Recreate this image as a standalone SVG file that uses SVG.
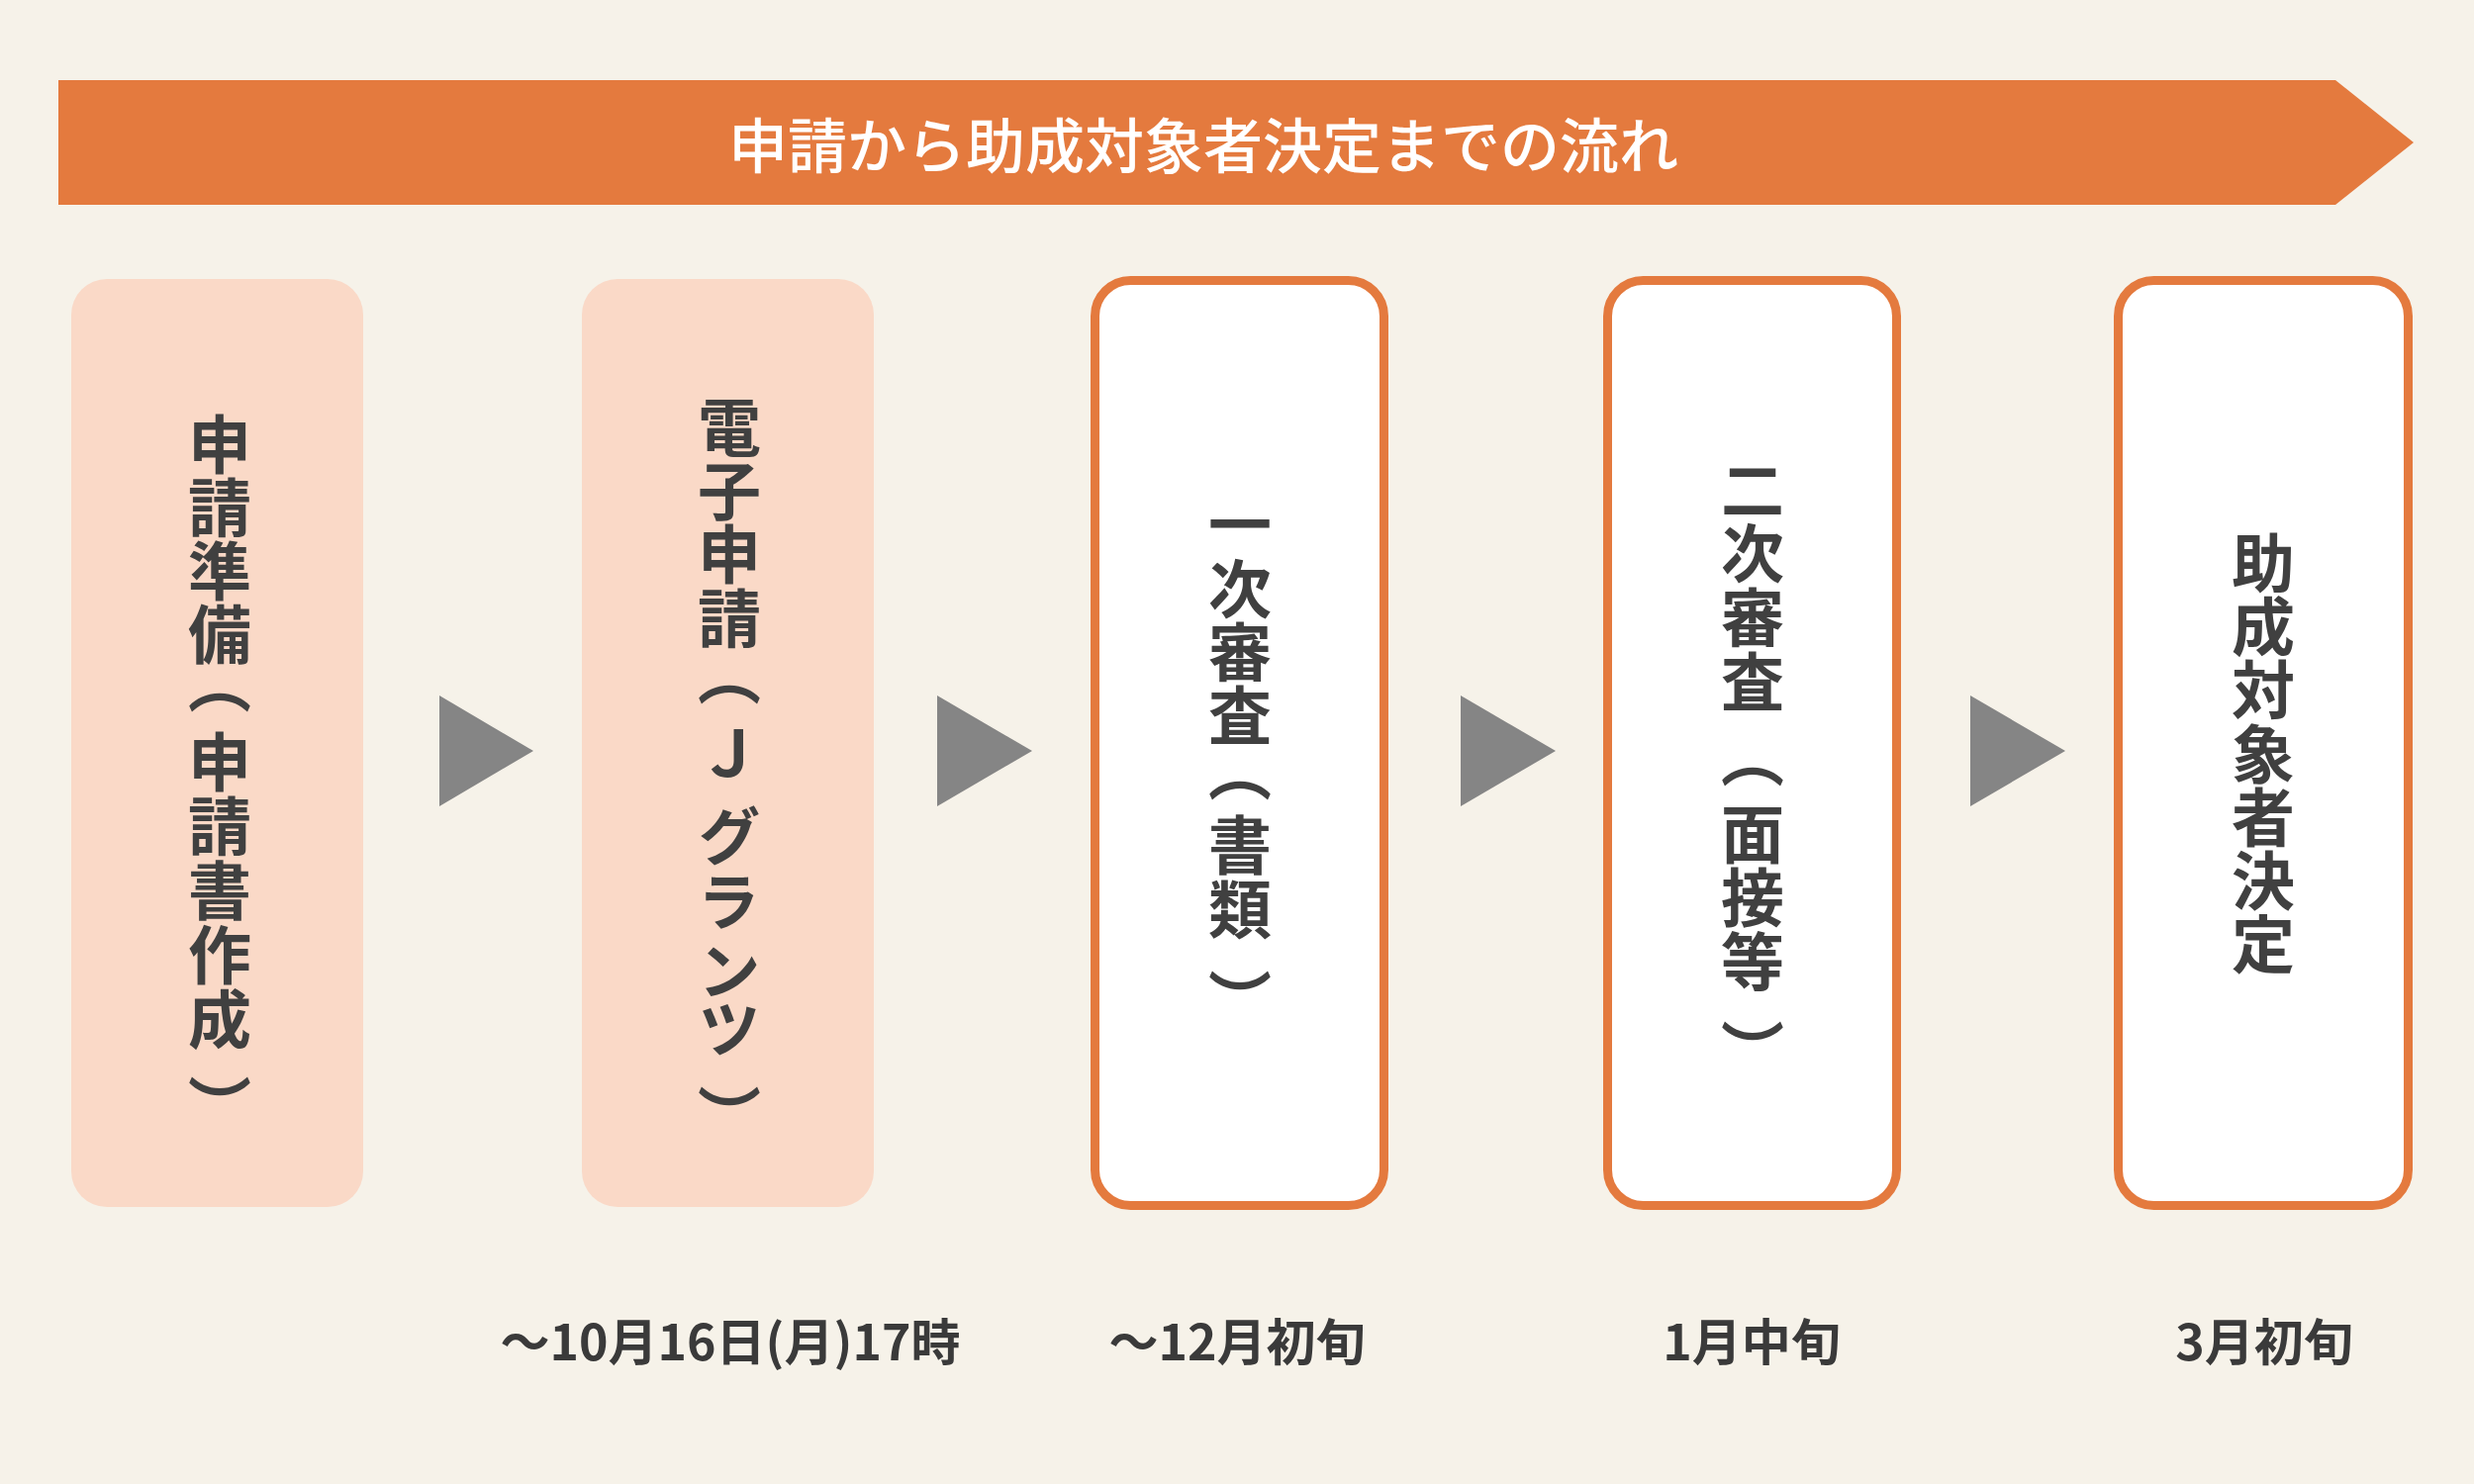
<svg xmlns="http://www.w3.org/2000/svg" width="2500" height="1500" viewBox="0 0 2500 1500">
<style>
.jp{font-family:"Noto Sans CJK JP","Noto Sans",sans-serif;}
.title{font-size:60px;font-weight:500;fill:#FFFFFF;}
.vt{font-size:64px;font-weight:700;fill:#404040;writing-mode:vertical-rl;}
.date{font-size:50px;font-weight:700;fill:#3A3A3A;}
.peach{fill:#FAD9C7;}
.outl{fill:#FFFFFF;stroke:#E47A3E;stroke-width:9;}
.arr{fill:#858585;}
</style>
<rect x="0" y="0" width="2500" height="1500" fill="#F6F2E9"/>
<g id="banner">
<polygon points="59,81 2360,81 2439,144 2360,207 59,207" fill="#E47A3E"/>
<text class="jp title" x="1216" y="143" text-anchor="middle" dominant-baseline="central">申請から助成対象者決定までの流れ</text>
</g>
<g id="node1">
<rect class="peach" x="72" y="282" width="295" height="938" rx="36"/>
<text class="jp vt" x="222"><tspan x="222" y="417">申</tspan><tspan x="222" y="481">請</tspan><tspan x="222" y="545">準</tspan><tspan x="222" y="609">備</tspan><tspan x="222" y="658">（</tspan><tspan x="222" y="738">申</tspan><tspan x="222" y="803">請</tspan><tspan x="222" y="868">書</tspan><tspan x="222" y="933">作</tspan><tspan x="222" y="998">成</tspan><tspan x="222" y="1086">）</tspan></text>
</g>
<g id="node2">
<rect class="peach" x="588" y="282" width="295" height="938" rx="36"/>
<text class="jp vt" x="737"><tspan x="737" y="400">電</tspan><tspan x="737" y="464">子</tspan><tspan x="737" y="528">申</tspan><tspan x="737" y="593">請</tspan><tspan x="737" y="650">（</tspan><tspan x="737" y="730">Ｊ</tspan><tspan x="737" y="813">グ</tspan><tspan x="737" y="879">ラ</tspan><tspan x="737" y="949">ン</tspan><tspan x="737" y="1008">ツ</tspan><tspan x="737" y="1096">）</tspan></text>
</g>
<g id="node3">
<rect class="outl" x="1106.5" y="283.5" width="292" height="935" rx="36"/>
<text class="jp vt" x="1253"><tspan x="1253" y="498">一</tspan><tspan x="1253" y="563">次</tspan><tspan x="1253" y="627">審</tspan><tspan x="1253" y="691">査</tspan><tspan x="1253" y="747">（</tspan><tspan x="1253" y="822">書</tspan><tspan x="1253" y="887">類</tspan><tspan x="1253" y="979">）</tspan></text>
</g>
<g id="node4">
<rect class="outl" x="1624.5" y="283.5" width="292" height="935" rx="36"/>
<text class="jp vt" x="1771"><tspan x="1771" y="463">二</tspan><tspan x="1771" y="527">次</tspan><tspan x="1771" y="592">審</tspan><tspan x="1771" y="657">査</tspan><tspan x="1771" y="733">（</tspan><tspan x="1771" y="811">面</tspan><tspan x="1771" y="875">接</tspan><tspan x="1771" y="940">等</tspan><tspan x="1771" y="1030">）</tspan></text>
</g>
<g id="node5">
<rect class="outl" x="2140.5" y="283.5" width="293" height="935" rx="36"/>
<text class="jp vt" x="2287"><tspan x="2287" y="537">助</tspan><tspan x="2287" y="601">成</tspan><tspan x="2287" y="665">対</tspan><tspan x="2287" y="730">象</tspan><tspan x="2287" y="794">者</tspan><tspan x="2287" y="858">決</tspan><tspan x="2287" y="922">定</tspan></text>
</g>
<g id="connectors">
<polygon class="arr" points="444,703 539,759 444,815"/>
<polygon class="arr" points="947,703 1043,759 947,815"/>
<polygon class="arr" points="1476,703 1572,759 1476,815"/>
<polygon class="arr" points="1991,703 2087,759 1991,815"/>
</g>
<g id="dates">
<text class="jp date" x="738" y="1375" text-anchor="middle">～10月16日(月)17時</text>
<text class="jp date" x="1250" y="1375" text-anchor="middle">～12月初旬</text>
<text class="jp date" x="1770" y="1375" text-anchor="middle">1月中旬</text>
<text class="jp date" x="2288" y="1375" text-anchor="middle">3月初旬</text>
</g>
</svg>
